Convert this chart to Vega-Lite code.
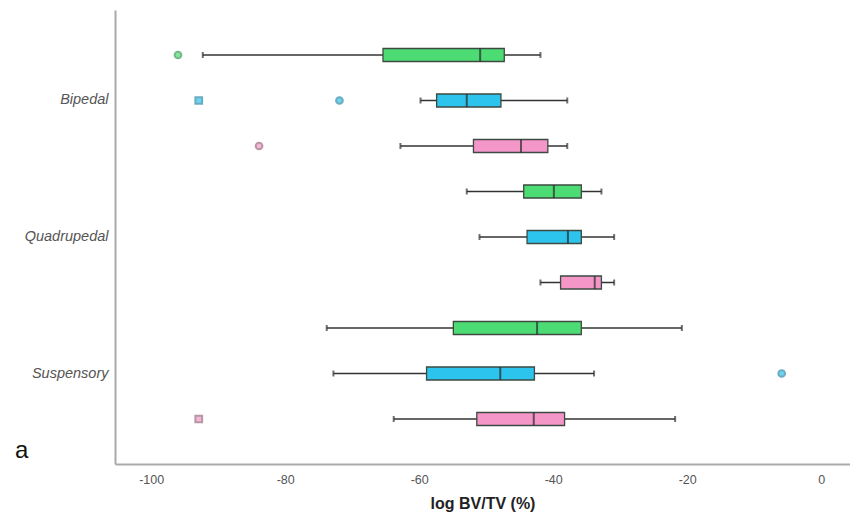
{
  "$schema": "https://vega.github.io/schema/vega-lite/v6.json",
  "width": 735,
  "height": 454,
  "autosize": {"type": "none"},
  "padding": {"left": 115, "top": 10, "right": 0, "bottom": 57},
  "background": "white",
  "config": {"view": {"stroke": null}, "font": "Liberation Sans"},
  "title": {"text": "a", "orient": "bottom", "anchor": "start", "frame": "group", "fontSize": 24, "fontWeight": "normal", "color": "#111", "dx": -100, "dy": -73, "offset": 0},
  "datasets": {
    "boxes": [
      {"group": "Bipedal", "sub": "s1", "lo": -92.3, "q1": -65.4, "med": -50.9, "q3": -47.3, "hi": -41.9},
      {"group": "Bipedal", "sub": "s2", "lo": -59.8, "q1": -57.4, "med": -52.9, "q3": -47.8, "hi": -37.9},
      {"group": "Bipedal", "sub": "s3", "lo": -62.8, "q1": -51.9, "med": -44.8, "q3": -40.8, "hi": -37.9},
      {"group": "Quadrupedal", "sub": "s1", "lo": -52.9, "q1": -44.4, "med": -39.9, "q3": -35.8, "hi": -32.8},
      {"group": "Quadrupedal", "sub": "s2", "lo": -51.0, "q1": -43.9, "med": -37.8, "q3": -35.8, "hi": -30.9},
      {"group": "Quadrupedal", "sub": "s3", "lo": -41.9, "q1": -38.9, "med": -33.8, "q3": -32.8, "hi": -30.9},
      {"group": "Suspensory", "sub": "s1", "lo": -73.8, "q1": -54.9, "med": -42.4, "q3": -35.8, "hi": -20.8},
      {"group": "Suspensory", "sub": "s2", "lo": -72.8, "q1": -58.9, "med": -47.9, "q3": -42.8, "hi": -33.9},
      {"group": "Suspensory", "sub": "s3", "lo": -63.8, "q1": -51.4, "med": -42.9, "q3": -38.3, "hi": -21.8}
    ],
    "outliers": [
      {"group": "Bipedal", "sub": "s1", "value": -96.0, "kind": "circle"},
      {"group": "Bipedal", "sub": "s2", "value": -92.9, "kind": "square"},
      {"group": "Bipedal", "sub": "s2", "value": -71.9, "kind": "circle"},
      {"group": "Bipedal", "sub": "s3", "value": -83.9, "kind": "circle"},
      {"group": "Suspensory", "sub": "s2", "value": -5.9, "kind": "circle"},
      {"group": "Suspensory", "sub": "s3", "value": -92.9, "kind": "square"}
    ]
  },
  "encoding": {
    "y": {
      "field": "group", "type": "nominal",
      "scale": {"domain": ["Bipedal", "Quadrupedal", "Suspensory"], "paddingInner": 0, "paddingOuter": 0.163},
      "axis": {"title": null, "ticks": false, "labelFontStyle": "italic", "labelFontSize": 14.5, "labelColor": "#555", "labelPadding": 7, "domainColor": "#aaa", "domainWidth": 2}
    },
    "yOffset": {"field": "sub", "type": "nominal", "scale": {"domain": ["s1", "s2", "s3"], "paddingInner": 0, "paddingOuter": 0}}
  },
  "layer": [
    {
      "data": {"name": "boxes"},
      "mark": {"type": "rule", "color": "#333", "strokeWidth": 1.6},
      "encoding": {
        "x": {"field": "lo", "type": "quantitative",
          "scale": {"domain": [-105.4, 4.3], "nice": false, "zero": false},
          "axis": {"title": "log BV/TV (%)", "values": [-100, -80, -60, -40, -20, 0], "labelExpr": "replace(datum.label, '\u2212', '-')", "grid": false, "ticks": false, "labelFontSize": 12.5, "labelColor": "#555", "labelPadding": 9, "domainColor": "#aaa", "domainWidth": 2, "titleFontSize": 16, "titleFontWeight": "bold", "titleColor": "#222", "titlePadding": 10}},
        "x2": {"field": "hi"}
      }
    },
    {
      "data": {"name": "boxes"},
      "mark": {"type": "tick", "color": "#333", "thickness": 2, "size": 6},
      "encoding": {"x": {"field": "lo", "type": "quantitative"}}
    },
    {
      "data": {"name": "boxes"},
      "mark": {"type": "tick", "color": "#333", "thickness": 2, "size": 6},
      "encoding": {"x": {"field": "hi", "type": "quantitative"}}
    },
    {
      "data": {"name": "boxes"},
      "mark": {"type": "bar", "height": 13, "stroke": "#3d4a42", "strokeWidth": 1.3},
      "encoding": {
        "x": {"field": "q1", "type": "quantitative"},
        "x2": {"field": "q3"},
        "fill": {"field": "sub", "type": "nominal", "scale": {"domain": ["s1", "s2", "s3"], "range": ["#4ddc73", "#2cc3ec", "#f596c8"]}, "legend": null}
      }
    },
    {
      "data": {"name": "boxes"},
      "mark": {"type": "tick", "color": "#2a2a2a", "thickness": 2, "size": 13},
      "encoding": {"x": {"field": "med", "type": "quantitative"}}
    },
    {
      "data": {"name": "outliers"},
      "mark": {"type": "point", "filled": true, "size": 45, "strokeWidth": 2},
      "encoding": {
        "x": {"field": "value", "type": "quantitative"},
        "shape": {"field": "kind", "type": "nominal", "scale": {"domain": ["circle", "square"], "range": ["circle", "square"]}, "legend": null},
        "fill": {"field": "sub", "type": "nominal", "scale": {"domain": ["s1", "s2", "s3"], "range": ["#4ddc73", "#2cc3ec", "#f596c8"]}, "legend": null},
        "stroke": {"field": "sub", "type": "nominal", "scale": {"domain": ["s1", "s2", "s3"], "range": ["#3f9a5a", "#2f8aa8", "#9a6a80"]}, "legend": null}
      }
    }
  ]
}
